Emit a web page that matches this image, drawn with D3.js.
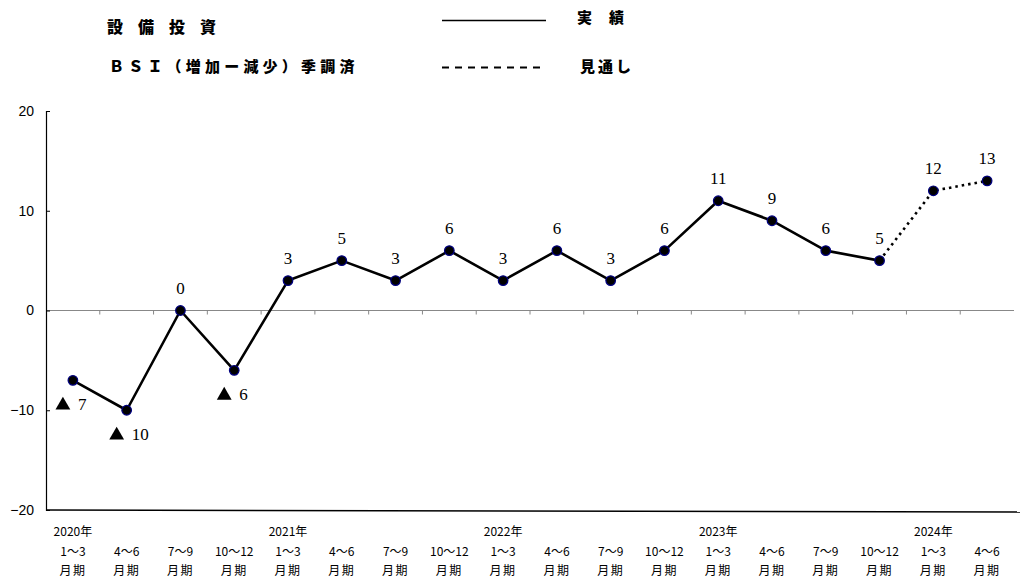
<!DOCTYPE html>
<html>
<head>
<meta charset="utf-8">
<script src="https://cdn.jsdelivr.net/npm/d3@7"></script>
<style>
  html, body { margin: 0; padding: 0; background: #fff; }
  svg { display: block; }
</style>
</head>
<body>
<svg id="chart" width="1024" height="579"></svg>
<script>
// Quarterly periods
const years = ["2020年", "", "", "", "2021年", "", "", "", "2022年", "", "", "", "2023年", "", "", "", "2024年", ""];
const quarters = ["1～3", "4～6", "7～9", "10～12", "1～3", "4～6", "7～9", "10～12", "1～3", "4～6", "7～9", "10～12", "1～3", "4～6", "7～9", "10～12", "1～3", "4～6"];
// BSI (increase − decrease), seasonally adjusted
const values = [-7, -10, 0, -6, 3, 5, 3, 6, 3, 6, 3, 6, 11, 9, 6, 5, 12, 13];
// Index of the last actual result; later points are forecasts
const lastActual = 15;
const yTicks = [20, 10, 0, -10, -20];

const svg = d3.select("#chart");
const plotLeft = 46, plotRight = 1014, plotTop = 111, plotBottom = 510;

const x = d3.scaleBand().domain(d3.range(values.length)).range([plotLeft, plotRight]);
const y = d3.scaleLinear().domain([-20, 20]).range([plotBottom, plotTop]);
const cx = i => x(i) + x.bandwidth() / 2;

const jp = "'Noto Sans CJK JP', sans-serif";

// Header
svg.append("text").attr("x", 107).attr("y", 33)
  .attr("font-family", jp).attr("font-weight", "900").attr("font-size", 16)
  .attr("letter-spacing", 15).text("設備投資");
svg.append("text").attr("x", 109).attr("y", 72)
  .attr("font-family", jp).attr("font-weight", "900").attr("font-size", 15)
  .attr("letter-spacing", 4.2).text("ＢＳＩ（増加ー減少）季調済");

svg.append("line").attr("x1", 442).attr("x2", 546).attr("y1", 20.5).attr("y2", 20.5)
  .attr("stroke", "#000").attr("stroke-width", 1.6);
svg.append("line").attr("x1", 442).attr("x2", 541).attr("y1", 67.5).attr("y2", 67.5)
  .attr("stroke", "#000").attr("stroke-width", 1.8).attr("stroke-dasharray", "7,6");
svg.append("text").attr("x", 577).attr("y", 23)
  .attr("font-family", jp).attr("font-weight", "900").attr("font-size", 15)
  .attr("letter-spacing", 17).text("実績");
svg.append("text").attr("x", 580).attr("y", 72)
  .attr("font-family", jp).attr("font-weight", "900").attr("font-size", 15)
  .attr("letter-spacing", 3).text("見通し");

// Zero line with category separators
svg.append("line").attr("x1", plotLeft).attr("x2", plotRight).attr("y1", y(0)).attr("y2", y(0))
  .attr("stroke", "#888").attr("stroke-width", 1);
svg.append("g").selectAll("line").data(d3.range(1, values.length)).join("line")
  .attr("x1", i => x(i)).attr("x2", i => x(i))
  .attr("y1", y(0)).attr("y2", y(0) + 4)
  .attr("stroke", "#888").attr("stroke-width", 1);

// Y axis
const yAxis = d3.axisLeft(y).tickValues(yTicks).tickSize(-4).tickPadding(12)
  .tickFormat(d => d < 0 ? "−" + Math.abs(d) : d);
const gy = svg.append("g").attr("transform", `translate(${plotLeft},0)`).call(yAxis);
gy.select(".domain").attr("stroke", "#000").attr("stroke-width", 1.2);
gy.selectAll(".tick line").attr("stroke", "#000");
gy.selectAll(".tick text").attr("font-family", "'Liberation Sans', Arial, sans-serif")
  .attr("font-size", 14).attr("fill", "#000");

// Bottom axis line
svg.append("line").attr("x1", plotLeft).attr("x2", 1020).attr("y1", plotBottom).attr("y2", plotBottom + 2)
  .attr("stroke", "#000").attr("stroke-width", 1.5);

// Category labels: year (when it starts), quarter range and "月期"
const xl = svg.append("g").attr("font-family", jp).attr("font-size", 12)
  .attr("text-anchor", "middle").attr("fill", "#000");
values.forEach((v, i) => {
  if (years[i]) xl.append("text").attr("x", cx(i)).attr("y", 536).text(years[i]);
  xl.append("text").attr("x", cx(i)).attr("y", 556).text(quarters[i]);
  xl.append("text").attr("x", cx(i)).attr("y", 575).attr("letter-spacing", 1.5).text("月期");
});

// Lines
const line = d3.line().x(i => cx(i)).y(i => y(values[i]));
svg.append("path").attr("d", line(d3.range(0, lastActual + 1)))
  .attr("fill", "none").attr("stroke", "#000").attr("stroke-width", 2.6)
  .attr("stroke-linejoin", "round");
svg.append("path").attr("d", line(d3.range(lastActual, values.length)))
  .attr("fill", "none").attr("stroke", "#000").attr("stroke-width", 2.6)
  .attr("stroke-dasharray", "2.5,4").attr("stroke-linecap", "butt");

// Markers
svg.append("g").selectAll("circle").data(values).join("circle")
  .attr("cx", (d, i) => cx(i)).attr("cy", d => y(d)).attr("r", 4.8)
  .attr("fill", "#000").attr("stroke", "#000080").attr("stroke-width", 1.2);

// Value labels
const lbl = svg.append("g").attr("font-family", "'Liberation Serif', 'DejaVu Serif', serif")
  .attr("font-size", 17).attr("fill", "#000");
values.forEach((v, i) => {
  if (v >= 0) {
    lbl.append("text").attr("x", cx(i)).attr("y", y(v) - 17)
      .attr("text-anchor", "middle").text(v);
  } else {
    const g = lbl.append("g").attr("transform", `translate(${cx(i)},${y(v) + 30})`);
    g.append("path").attr("d", d3.symbol(d3.symbolTriangle, 95)())
      .attr("transform", "translate(-10,-5)").attr("fill", "#000");
    g.append("text").attr("x", 5).attr("y", 0).text(Math.abs(v));
  }
});
</script>
</body>
</html>
